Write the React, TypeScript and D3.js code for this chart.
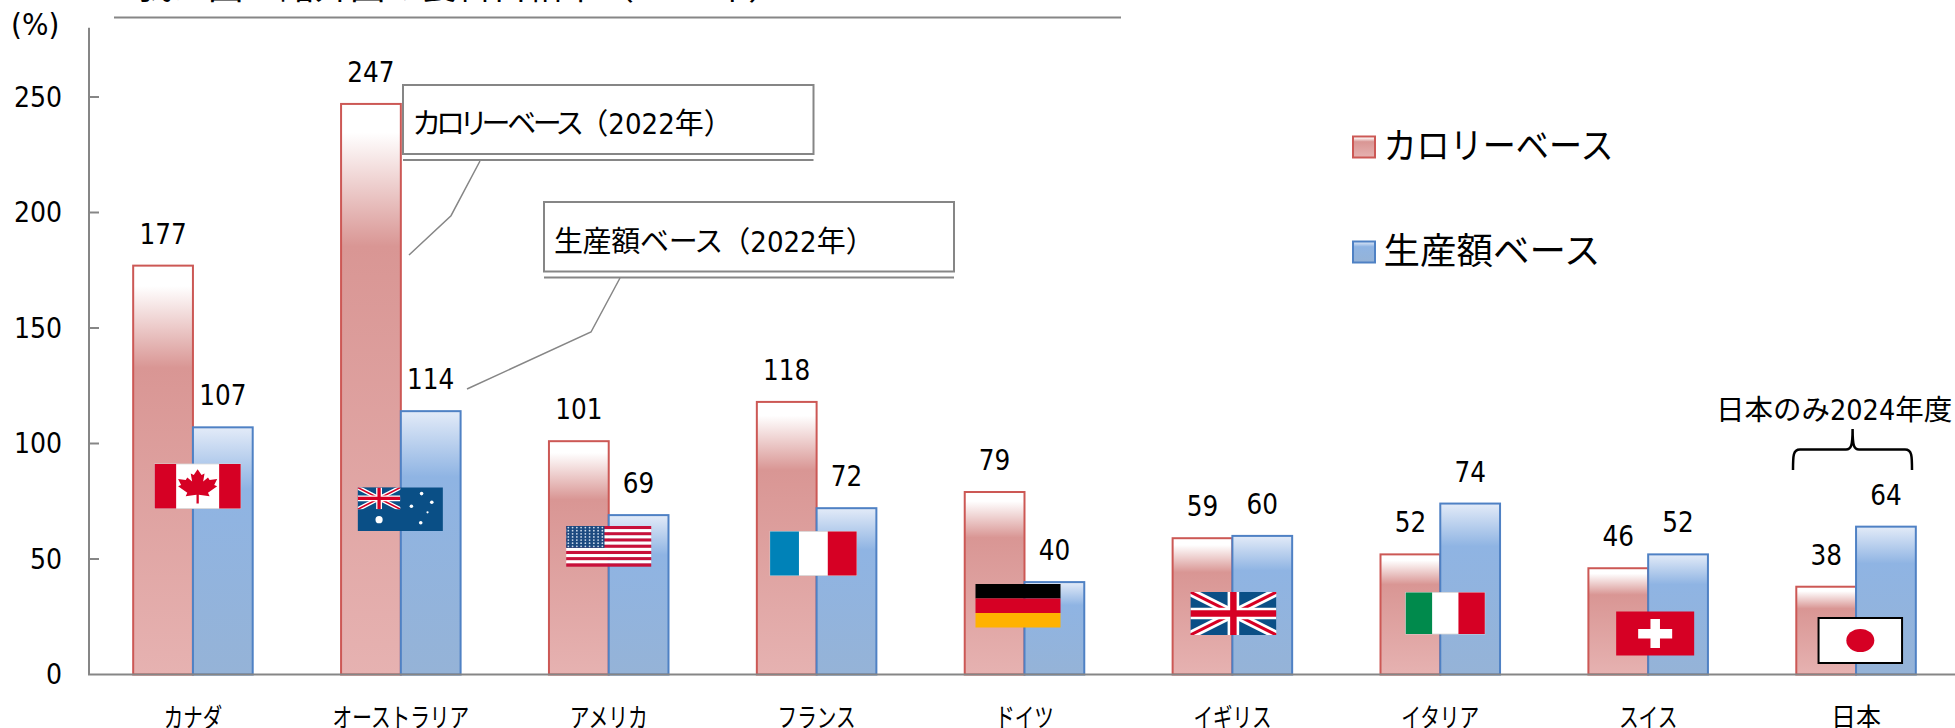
import React from "react";
import * as d3 from "d3";

const categories = ["カナダ", "オーストラリア", "アメリカ", "フランス", "ドイツ", "イギリス", "イタリア", "スイス", "日本"];
const calorieBase = [177, 247, 101, 118, 79, 59, 52, 46, 38];
const productionBase = [107, 114, 69, 72, 40, 60, 74, 52, 64];
const seriesNames = ["カロリーベース", "生産額ベース"];
const flagCodes = ["ca", "au", "us", "fr", "de", "gb", "it", "ch", "jp"];
const yMax = 280;

const W = 1955, H = 728;
const FONT = "'DejaVu Sans Condensed','DejaVu Sans','Noto Sans CJK JP',sans-serif";
const CJK = "'Noto Sans CJK JP',sans-serif";
const AXIS = "#868686";
const RED = "#cc5855", BLUE = "#4f81c4";
const FR = "#d60024", NAVY = "#0a4f86";

// flag layout relative to the group's centre and the baseline: [dx, top above baseline, width, height]
const flagBoxes: Record<string, number[]> = {
  ca: [-38.3, 210.5, 86, 44.5],
  au: [-43, 187, 85, 43.5],
  us: [-42.5, 148.5, 85, 40.5],
  fr: [-46.5, 143, 86.5, 44],
  de: [-49, 90.5, 85, 43.5],
  gb: [-42, 82.5, 86, 43],
  it: [-34.5, 82, 79, 41.5],
  ch: [-32, 63, 78, 44],
  jp: [-37.5, 56.5, 83.5, 45],
};

const x = d3.scaleBand<string>().domain(categories).range([89, 1960]).paddingInner(0.425).paddingOuter(0.2125);
const x1 = d3.scaleBand<number>().domain([0, 1]).range([0, x.bandwidth()]);
const y = d3.scaleLinear().domain([0, yMax]).range([674.5, 27.7]);
const line = d3.line();

const leaf: [number, number][] = [[0,-1],[.17,-.68],[.3,-.76],[.24,-.32],[.45,-.54],[.52,-.4],[.85,-.46],[.72,-.12],[.85,-.05],[.45,.3],[.52,.5],[.05,.42],[.05,.9],[-.05,.9],[-.05,.42],[-.52,.5],[-.45,.3],[-.85,-.05],[-.72,-.12],[-.85,-.46],[-.52,-.4],[-.45,-.54],[-.24,-.32],[-.3,-.76],[-.17,-.68]];

function UnionJack({ w, h, id }: { w: number; h: number; id: string }) {
  return (
    <g>
      <clipPath id={id}><rect width={w} height={h} /></clipPath>
      <g clipPath={`url(#${id})`}>
        <rect width={w} height={h} fill={NAVY} />
        <path d={`M0,0L${w},${h}M${w},0L0,${h}`} stroke="#fff" strokeWidth={h * 0.2} />
        <path d={`M0,0L${w},${h}M${w},0L0,${h}`} stroke={FR} strokeWidth={h * 0.07} />
        <path d={`M${w / 2},0V${h}M0,${h / 2}H${w}`} stroke="#fff" strokeWidth={h * 0.27} />
        <path d={`M${w / 2},0V${h}M0,${h / 2}H${w}`} stroke={FR} strokeWidth={h * 0.15} />
      </g>
    </g>
  );
}

function Flag({ code, w, h }: { code: string; w: number; h: number }) {
  const edge = { stroke: "#d9d9d9", strokeWidth: 0.8 };
  if (code === "ca") {
    const pts = leaf.map(([a, b]) => [w / 2 + a * 23, h / 2 + 1 + b * 18] as [number, number]);
    return (
      <g>
        <rect width={w} height={h} fill="#fff" {...edge} />
        <rect width={w * 0.25} height={h} fill={FR} />
        <rect x={w * 0.75} width={w * 0.25} height={h} fill={FR} />
        <path d={line(pts) + "Z"} fill={FR} />
      </g>
    );
  }
  if (code === "au") {
    const stars = [[.75, .14, 1.8], [.87, .34, 1.8], [.63, .43, 1.8], [.82, .57, 1.1], [.74, .81, 1.8], [.25, .74, 3.6]];
    return (
      <g>
        <rect width={w} height={h} fill={NAVY} />
        <UnionJack w={w / 2} h={h / 2} id="uj-au" />
        {stars.map(([a, b, r], i) => <circle key={i} cx={a * w} cy={b * h} r={r} fill="#fff" />)}
      </g>
    );
  }
  if (code === "us") {
    const s = d3.range(13);
    const dots = d3.range(9).flatMap(c => d3.range(7).map(r => [(c + .5) * w * .45 / 9, (r + .5) * h * .54 / 7]));
    return (
      <g>
        {s.map(i => <rect key={i} y={(i * h) / 13} width={w} height={h / 13 + .2} fill={i % 2 ? "#fff" : "#c8103a"} />)}
        <rect width={w * 0.45} height={h * 0.54} fill="#1d4a80" />
        {dots.map(([a, b], i) => <circle key={i} cx={a} cy={b} r={0.9} fill="#cfdcec" />)}
      </g>
    );
  }
  if (code === "fr" || code === "it") {
    const c = code === "fr" ? "#0082b8" : "#008a4c";
    return (
      <g>
        <rect width={w} height={h} fill="#fff" {...edge} />
        <rect width={w / 3} height={h} fill={c} />
        <rect x={(2 * w) / 3} width={w / 3} height={h} fill={FR} />
      </g>
    );
  }
  if (code === "de") {
    return (
      <g>
        <rect width={w} height={h / 3} fill="#000" />
        <rect y={h / 3} width={w} height={h / 3} fill={FR} />
        <rect y={(2 * h) / 3} width={w} height={h / 3} fill="#ffb200" />
      </g>
    );
  }
  if (code === "gb") return <UnionJack w={w} h={h} id="uj-gb" />;
  if (code === "ch") {
    return (
      <g>
        <rect width={w} height={h} fill={FR} />
        <rect x={w / 2 - 17} y={h / 2 - 4.5} width={34} height={9.5} fill="#fff" />
        <rect x={w / 2 - 4.7} y={h / 2 - 14.5} width={9.5} height={29} fill="#fff" />
      </g>
    );
  }
  return (
    <g>
      <rect width={w} height={h} fill="#fff" stroke="#000" strokeWidth={2} />
      <ellipse cx={w / 2} cy={h / 2} rx={14} ry={11.5} fill={FR} />
    </g>
  );
}

function Callout({ x0, x1: xe, y0, y1, name, year, track, leader }: { x0: number; x1: number; y0: number; y1: number; name: string; year: string; track: number; leader: [number, number][] }) {
  return (
    <g>
      <rect x={x0} y={y0} width={xe - x0} height={y1 - y0} fill="#fff" stroke={AXIS} strokeWidth={2} />
      <path d={`M${x0},${y1 + 6}H${xe}`} stroke={AXIS} strokeWidth={2} />
      <path d={line(leader)!} fill="none" stroke={AXIS} strokeWidth={1.5} />
      <text x={x0 + 10} y={y1 - 20} fontSize={29} fontFamily={FONT} fill="#000">
        <tspan style={{ fontFeatureSettings: '"palt"', letterSpacing: `${track}px` }}>{name}</tspan>
        <tspan>{year}</tspan>
      </text>
    </g>
  );
}

export default function App() {
  const base = y(0);
  const legendWidths = [230, 217];
  return (
    <svg width={W} height={H} viewBox={`0 0 ${W} ${H}`} style={{ position: "absolute", left: 0, top: 0, display: "block", background: "#fff" }}>
      <defs>
        <linearGradient id="gr" x1="0" y1="0" x2="0" y2="1">
          <stop offset="0" stopColor="#ffffff" />
          <stop offset="0.05" stopColor="#ffffff" />
          <stop offset="0.25" stopColor="#d99694" />
          <stop offset="1" stopColor="#e6b2b1" />
        </linearGradient>
        <linearGradient id="gb" x1="0" y1="0" x2="0" y2="1">
          <stop offset="0" stopColor="#e3ebf8" />
          <stop offset="0.25" stopColor="#8fb4e3" />
          <stop offset="1" stopColor="#95b3d7" />
        </linearGradient>
      </defs>

      {/* title, cut off by the top of the picture */}
      <text x={137} y={-1} fontSize={35.5} fontFamily={CJK} fill="#000">我が国と諸外国の食料自給率（2022年）</text>
      <path d="M114,17.5H1121" stroke={AXIS} strokeWidth={2} />

      {/* bars */}
      {categories.map((c, i) => (
        <g key={c} transform={`translate(${x(c)},0)`}>
          {[calorieBase[i], productionBase[i]].map((v, s) => (
            <g key={s}>
              <rect x={x1(s)} y={y(v)} width={x1.bandwidth()} height={base - y(v)} fill={`url(#${s ? "gb" : "gr"})`} stroke={s ? BLUE : RED} strokeWidth={2} />
              <text x={x1(s)! + x1.bandwidth() / 2} y={y(v) - 22} textAnchor="middle" fontSize={27.5} fontFamily={FONT} fill="#000">{v}</text>
            </g>
          ))}
        </g>
      ))}

      {/* axes */}
      <path d={`M89,${y(yMax)}V${base}H${W}`} fill="none" stroke={AXIS} strokeWidth={2} />
      {y.ticks(6).filter(t => t <= 250).map(t => (
        <g key={t}>
          {t > 0 && <path d={`M89,${y(t)}H99`} stroke={AXIS} strokeWidth={2} />}
          <text x={62} y={y(t) + 9.5} textAnchor="end" fontSize={28} fontFamily={FONT} fill="#000">{t}</text>
        </g>
      ))}
      <text x={11} y={35} fontSize={31} fontFamily={FONT} fill="#000">(%)</text>

      {categories.map(c => (
        <text key={c} x={x(c)! + x.bandwidth() / 2} y={727} textAnchor="middle" fontSize={26.5} fontFamily={CJK} fill="#000"
          textLength={c === "日本" ? 50 : c.length * 19.5} lengthAdjust="spacingAndGlyphs">{c}</text>
      ))}

      {/* flags */}
      {categories.map((c, i) => {
        const [dx, top, w, h] = flagBoxes[flagCodes[i]];
        return (
          <g key={c} transform={`translate(${x(c)! + x.bandwidth() / 2 + dx},${base - top})`}>
            <Flag code={flagCodes[i]} w={w} h={h} />
          </g>
        );
      })}

      {/* callouts */}
      <Callout x0={403} x1={813.5} y0={85} y1={154} name="カロリーベース" year="（2022年）" track={-3.4} leader={[[480, 161], [451, 215.7], [409, 255]]} />
      <Callout x0={544} x1={954} y0={202} y1={271.5} name="生産額ベース" year="（2022年）" track={-0.4} leader={[[620, 278], [591, 332], [467, 389]]} />

      {/* legend */}
      {seriesNames.map((n, s) => {
        const top = s ? 241.5 : 136.5;
        return (
          <g key={n}>
            <rect x={1353} y={top} width={22} height={21} fill={`url(#${s ? "gb" : "gr"})`} stroke={s ? BLUE : RED} strokeWidth={2} />
            <text x={1383.5} y={top + 22} fontSize={36} fontFamily={CJK} fill="#000" textLength={legendWidths[s]} lengthAdjust="spacingAndGlyphs">{n}</text>
          </g>
        );
      })}

      {/* Japan note */}
      <text x={1716} y={420} fontSize={28.5} fontFamily={FONT} fill="#000">日本のみ2024年度</text>
      <path d="M1793,470C1793,456 1793,449.5 1800,449.5H1846C1851,449.5 1852.6,446 1852.6,429C1852.6,446 1854,449.5 1859,449.5H1905C1912,449.5 1912,456 1912,470" fill="none" stroke="#000" strokeWidth={2.5} />
    </svg>
  );
}
